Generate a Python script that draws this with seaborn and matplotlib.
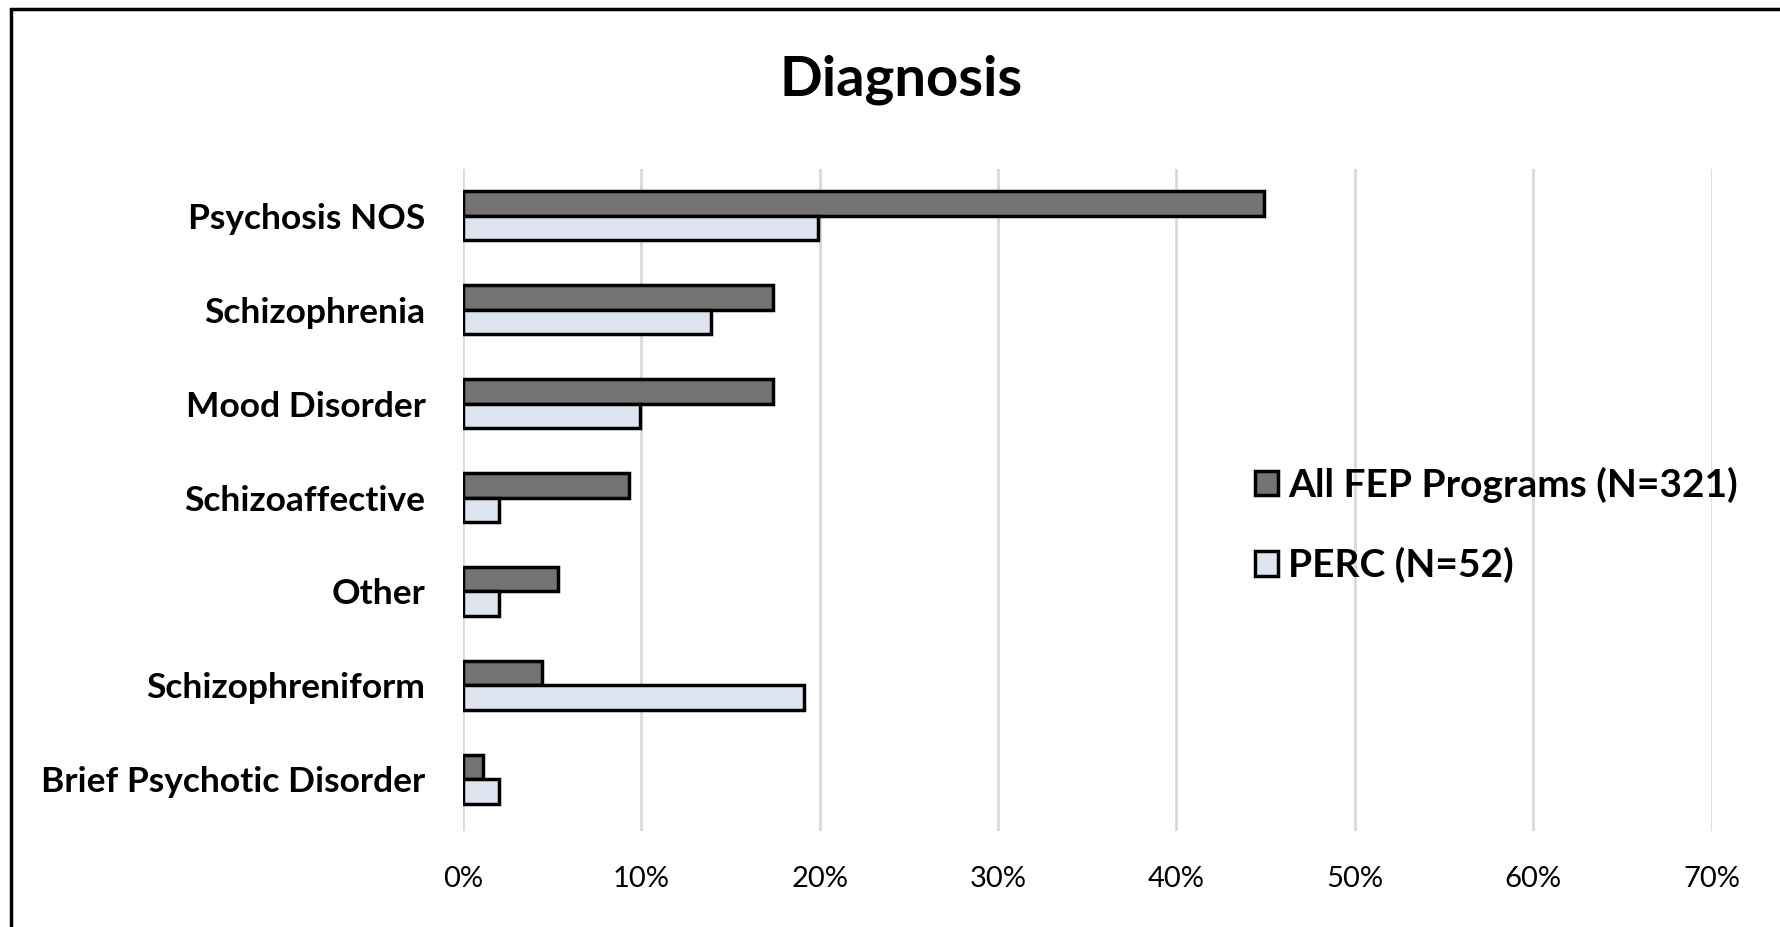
import pandas as pd
import seaborn as sns
import matplotlib.pyplot as plt
from matplotlib.patches import Rectangle

categories = ["Psychosis NOS", "Schizophrenia", "Mood Disorder", "Schizoaffective",
              "Other", "Schizophreniform", "Brief Psychotic Disorder"]
all_fep = [44.9, 17.4, 17.4, 9.3, 5.3, 4.4, 1.1]
perc = [19.9, 13.9, 9.9, 2.0, 2.0, 19.1, 2.0]
groups = ["All FEP Programs (N=321)", "PERC (N=52)"]
x_ticks = [0, 10, 20, 30, 40, 50, 60, 70]

df = pd.DataFrame({
    "diagnosis": categories * 2,
    "value": all_fep + perc,
    "group": [groups[0]] * len(categories) + [groups[1]] * len(categories),
})

sns.set_style("white")
plt.rcParams["font.family"] = ["Lato", "DejaVu Sans"]
plt.rcParams["text.color"] = "black"
plt.rcParams["xtick.color"] = "black"
plt.rcParams["ytick.color"] = "black"

fig = plt.figure(figsize=(17.81, 9.27), dpi=100)
ax = fig.add_axes([0.26, 0.1035, 0.701, 0.7145])

sns.barplot(data=df, x="value", y="diagnosis", hue="group", order=categories,
            hue_order=groups, orient="h", palette=["#767171", "#DAE3F3"],
            edgecolor="black", linewidth=2.5, width=0.52, ax=ax)

ax.set_xlim(0, 70)
ax.set_ylim(6.55, -0.5)
ax.set_xticks(x_ticks)
ax.set_xticklabels([f"{t}%" for t in x_ticks], fontsize=21)
ax.set_yticks(range(len(categories)))
ax.set_yticklabels(categories, fontsize=25.5, fontweight="bold")
ax.tick_params(axis="x", length=0, pad=25)
ax.tick_params(axis="y", length=0, pad=27)
ax.set_xlabel("")
ax.set_ylabel("")
ax.xaxis.grid(True, color="#D9D9D9", linewidth=2)
ax.set_axisbelow(True)
for s in ax.spines.values():
    s.set_visible(False)

handles, labels = ax.get_legend_handles_labels()
ax.legend(handles, labels, loc="center left", bbox_to_anchor=(1255 / 1781, 1 - 525 / 927),
          bbox_transform=fig.transFigure, frameon=False,
          prop={"size": 28, "weight": "bold"}, handlelength=0.6, handleheight=0.6,
          handletextpad=0.25, labelspacing=1.14, borderpad=0, borderaxespad=0)

fig.text(0.506, 0.914, "Diagnosis", ha="center", va="center", fontsize=40.5, fontweight="bold")

# chart border, cropped at right and bottom like the source
fig.patches.append(Rectangle((11 / 1781, -0.05), 1.1, (927 - 9) / 927 + 0.05,
                             transform=fig.transFigure, fill=False,
                             edgecolor="black", linewidth=2.5))

fig.savefig("out.png", dpi=100)
